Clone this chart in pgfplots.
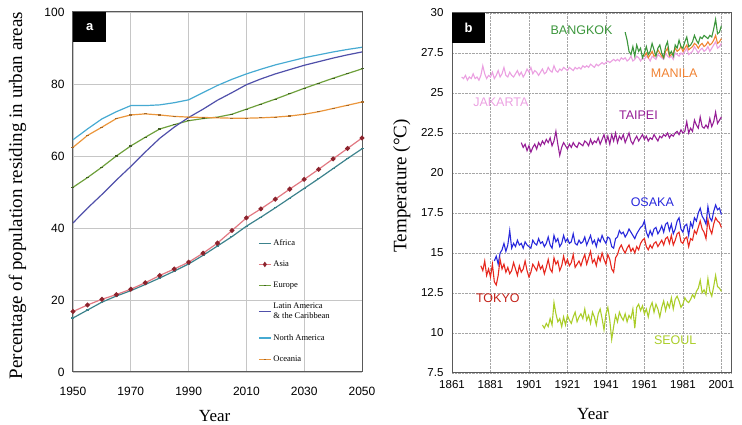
\documentclass[border=0pt]{standalone}
\usepackage{fontspec}
\setmainfont{Liberation Serif}
\setsansfont{Liberation Sans}
\usepackage{pgfplots}
\pgfplotsset{compat=1.18}
\definecolor{cAfr}{RGB}{60,130,140}
\definecolor{cAsia}{RGB}{140,35,45}
\definecolor{cAsiaL}{RGB}{225,120,130}
\definecolor{cEur}{RGB}{110,160,60}
\definecolor{cLat}{RGB}{80,80,170}
\definecolor{cNA}{RGB}{70,170,210}
\definecolor{cOce}{RGB}{235,150,60}
\definecolor{cBkk}{RGB}{60,150,60}
\definecolor{cMnl}{RGB}{240,130,50}
\definecolor{cJkt}{RGB}{235,160,225}
\definecolor{cTpe}{RGB}{150,30,150}
\definecolor{cOsa}{RGB}{40,40,220}
\definecolor{cTyo}{RGB}{230,40,30}
\definecolor{cSel}{RGB}{170,205,40}
\begin{document}
\begin{tikzpicture}
\useasboundingbox (0,0) rectangle (742pt,425pt);
% ---------------- panel a ----------------
\begin{axis}[
  at={(73pt,53pt)}, anchor=south west,
  scale only axis, width=289pt, height=360pt,
  xmin=1950, xmax=2050, ymin=0, ymax=100,
  xtick={1950,1970,...,2050}, ytick={0,20,...,100},
  grid=major, grid style={gray!45, line width=0.8pt},
  axis line style={gray!70!black, line width=1pt},
  tick style={draw=none},
  /pgf/number format/1000 sep={},
  /pgf/number format/assume math mode=true,
  ticklabel style={font=\sffamily\fontsize{12}{14}\selectfont},
  xticklabel style={yshift=-12pt},
  yticklabel style={xshift=-5pt},
  xlabel={Year}, ylabel={Percentage of population residing in urban areas},
  xlabel style={font=\fontsize{17}{20}\selectfont, at={(axis description cs:0.49,-0.122)}, anchor=center},
  ylabel style={font=\fontsize{19}{22}\selectfont, at={(axis description cs:-0.192,0.49)}, anchor=center},
  legend style={at={(axis description cs:0.63,0.38)}, anchor=north west,
    draw=none, fill=none, font=\fontsize{8.5}{10}\selectfont,
    nodes={align=left}, row sep=10pt},
  legend cell align=left,
  legend image post style={xscale=0.7},
  every axis plot/.append style={line width=1.2pt},
]
\addplot[cAfr, mark=-, mark size=1.5pt] coordinates {(1950,15.0)(1955,17.2)(1960,19.4)(1965,21.1)(1970,22.6)(1975,24.3)(1980,26.1)(1985,28.0)(1990,30.0)(1995,32.4)(2000,35.0)(2005,37.6)(2010,40.5)(2015,43.0)(2020,45.6)(2025,48.3)(2030,51.0)(2035,53.7)(2040,56.5)(2045,59.3)(2050,62.0)};
\addlegendentry{Africa}
\addplot[cAsiaL, mark=*, mark size=1.8pt, mark options={fill=cAsia, draw=cAsia}] coordinates {(1950,16.8)(1955,18.6)(1960,20.2)(1965,21.5)(1970,23.0)(1975,24.8)(1980,26.8)(1985,28.6)(1990,30.5)(1995,33.0)(2000,35.8)(2005,39.3)(2010,42.8)(2015,45.3)(2020,48.0)(2025,50.8)(2030,53.5)(2035,56.3)(2040,59.2)(2045,62.1)(2050,65.0)};
\addlegendentry{Asia}
\addplot[cEur, mark=-, mark size=1.5pt, mark options={draw=cEur!60!black}] coordinates {(1950,51.3)(1955,54.0)(1960,56.9)(1965,60.0)(1970,62.8)(1975,65.2)(1980,67.5)(1985,68.7)(1990,69.8)(1995,70.4)(2000,70.8)(2005,71.6)(2010,73.0)(2015,74.4)(2020,75.8)(2025,77.3)(2030,78.8)(2035,80.2)(2040,81.6)(2045,82.9)(2050,84.2)};
\addlegendentry{Europe}
\addplot[cLat] coordinates {(1950,41.4)(1955,45.5)(1960,49.3)(1965,53.3)(1970,57.1)(1975,61.1)(1980,64.9)(1985,68.0)(1990,70.7)(1995,73.0)(2000,75.5)(2005,77.6)(2010,79.8)(2015,81.4)(2020,82.8)(2025,84.0)(2030,85.2)(2035,86.2)(2040,87.2)(2045,88.1)(2050,88.9)};
\addlegendentry{Latin America\\\& the Caribbean}
\addplot[cNA] coordinates {(1950,64.5)(1955,67.5)(1960,70.3)(1965,72.3)(1970,74.0)(1975,74.0)(1980,74.2)(1985,74.8)(1990,75.6)(1995,77.6)(2000,79.6)(2005,81.3)(2010,82.8)(2015,84.1)(2020,85.3)(2025,86.3)(2030,87.3)(2035,88.1)(2040,88.9)(2045,89.6)(2050,90.2)};
\addlegendentry{North America}
\addplot[cOce, mark=-, mark size=1.5pt, mark options={draw=cOce!70!black}] coordinates {(1950,62.4)(1955,65.7)(1960,68.0)(1965,70.4)(1970,71.4)(1975,71.7)(1980,71.4)(1985,71.0)(1990,70.8)(1995,70.7)(2000,70.6)(2005,70.5)(2010,70.5)(2015,70.6)(2020,70.8)(2025,71.1)(2030,71.6)(2035,72.3)(2040,73.2)(2045,74.1)(2050,75.0)};
\addlegendentry{Oceania}
\node[fill=black, text=white, anchor=north west, minimum width=33pt, minimum height=30pt, inner sep=0pt, font=\sffamily\bfseries\fontsize{13}{15}\selectfont] at (axis description cs:0,1) {a};
\end{axis}
% ---------------- panel b ----------------
\begin{axis}[
  at={(452pt,52pt)}, anchor=south west,
  scale only axis, width=279pt, height=360pt,
  xmin=1861, xmax=2006, ymin=7.5, ymax=30,
  xtick={1861,1881,...,2001}, ytick={7.5,10,...,30},
  grid=major, grid style={gray!70, densely dotted, line width=0.8pt},
  axis line style={gray!70!black, line width=1pt},
  tick style={draw=none},
  /pgf/number format/1000 sep={},
  /pgf/number format/assume math mode=true,
  ticklabel style={font=\sffamily\fontsize{11.5}{13}\selectfont},
  xticklabel style={yshift=-4pt},
  yticklabel style={xshift=-5pt, /pgf/number format/.cd, fixed, precision=1},
  xlabel={Year}, ylabel={Temperature (°C)},
  xlabel style={font=\fontsize{17}{20}\selectfont, at={(axis description cs:0.505,-0.113)}, anchor=center},
  ylabel style={font=\fontsize{19}{22}\selectfont, at={(axis description cs:-0.18,0.52)}, anchor=center},
  every axis plot/.append style={line width=1.1pt, no marks},
]
% JAKARTA
\addplot[cJkt] coordinates {(1866,26.0)(1867,25.9)(1868,26.1)(1869,25.8)(1870,26.0)(1871,25.9)(1872,26.2)(1873,25.9)(1874,26.0)(1875,25.8)(1876,26.1)(1877,26.7)(1878,26.2)(1879,25.9)(1880,26.1)(1881,26.0)(1882,26.3)(1883,25.9)(1884,26.1)(1885,26.4)(1886,26.0)(1887,26.2)(1888,26.6)(1889,26.1)(1890,26.0)(1891,26.3)(1892,26.1)(1893,26.0)(1894,26.2)(1895,26.4)(1896,26.1)(1897,26.3)(1898,26.0)(1899,26.2)(1900,26.5)(1901,26.3)(1902,26.6)(1903,26.2)(1904,26.4)(1905,26.3)(1906,26.1)(1907,26.3)(1908,26.5)(1909,26.2)(1910,26.3)(1911,26.6)(1912,26.4)(1913,26.3)(1914,26.7)(1915,26.4)(1916,26.3)(1917,26.5)(1918,26.4)(1919,26.6)(1920,26.5)(1921,26.4)(1922,26.6)(1923,26.5)(1924,26.4)(1925,26.6)(1926,26.5)(1927,26.6)(1928,26.5)(1929,26.7)(1930,26.6)(1931,26.7)(1932,26.6)(1933,26.8)(1934,26.7)(1935,26.6)(1936,26.8)(1937,26.7)(1938,26.8)(1939,26.9)(1940,26.8)(1941,26.9)(1942,27.0)(1943,26.9)(1944,27.0)(1945,27.1)(1946,27.0)(1947,27.1)(1948,27.0)(1949,27.2)(1950,27.1)(1951,27.2)(1952,27.0)(1953,27.1)(1954,27.3)(1955,27.0)(1956,27.1)(1957,27.3)(1958,27.2)(1959,27.0)(1960,27.2)(1961,27.1)(1962,27.3)(1963,27.2)(1964,27.0)(1965,27.3)(1966,27.2)(1967,27.1)(1968,27.4)(1969,27.3)(1970,27.2)(1971,27.1)(1972,27.5)(1973,27.3)(1974,27.2)(1975,27.3)(1976,27.1)(1977,27.5)(1978,27.4)(1979,27.3)(1980,27.5)(1981,27.4)(1982,27.6)(1983,27.8)(1984,27.4)(1985,27.5)(1986,27.6)(1987,27.9)(1988,27.7)(1989,27.5)(1990,27.7)(1991,27.8)(1992,27.6)(1993,27.7)(1994,27.9)(1995,27.6)(1996,27.8)(1997,28.0)(1998,28.2)(1999,27.8)(2000,27.9)(2001,28.1)};
% MANILA
\addplot[cMnl] coordinates {(1961,27.3)(1962,27.5)(1963,27.2)(1964,27.4)(1965,27.6)(1966,27.3)(1967,27.4)(1968,27.7)(1969,27.5)(1970,27.3)(1971,27.2)(1972,27.6)(1973,27.8)(1974,27.3)(1975,27.4)(1976,27.5)(1977,27.8)(1978,27.6)(1979,27.7)(1980,27.9)(1981,27.6)(1982,27.8)(1983,28.0)(1984,27.7)(1985,27.8)(1986,27.9)(1987,28.1)(1988,28.0)(1989,27.8)(1990,28.0)(1991,28.1)(1992,27.9)(1993,28.0)(1994,28.2)(1995,28.0)(1996,28.1)(1997,28.3)(1998,28.6)(1999,28.1)(2000,28.2)(2001,28.4)};
% BANGKOK
\addplot[cBkk] coordinates {(1951,28.8)(1952,28.3)(1953,27.6)(1954,27.4)(1955,27.9)(1956,27.3)(1957,28.0)(1958,27.6)(1959,27.8)(1960,27.2)(1961,27.5)(1962,27.9)(1963,27.4)(1964,27.6)(1965,28.1)(1966,27.7)(1967,27.3)(1968,27.8)(1969,28.0)(1970,27.5)(1971,27.2)(1972,27.9)(1973,28.2)(1974,27.4)(1975,27.6)(1976,27.3)(1977,28.0)(1978,27.8)(1979,28.3)(1980,27.9)(1981,27.8)(1982,28.2)(1983,28.5)(1984,27.9)(1985,28.0)(1986,28.2)(1987,28.6)(1988,28.3)(1989,28.1)(1990,28.5)(1991,28.4)(1992,28.6)(1993,28.5)(1994,28.4)(1995,28.6)(1996,28.5)(1997,29.0)(1998,29.6)(1999,28.7)(2000,28.8)(2001,29.2)};
% TAIPEI
\addplot[cTpe] coordinates {(1897,21.9)(1898,21.6)(1899,21.8)(1900,21.4)(1901,21.7)(1902,21.3)(1903,21.6)(1904,21.8)(1905,21.5)(1906,21.9)(1907,21.7)(1908,22.0)(1909,21.8)(1910,22.1)(1911,21.9)(1912,22.2)(1913,21.7)(1914,22.0)(1915,22.6)(1916,21.8)(1917,21.1)(1918,21.6)(1919,21.9)(1920,21.7)(1921,21.5)(1922,21.8)(1923,21.6)(1924,21.9)(1925,21.7)(1926,21.6)(1927,21.9)(1928,21.8)(1929,21.7)(1930,22.0)(1931,21.9)(1932,21.7)(1933,22.1)(1934,21.8)(1935,22.0)(1936,21.9)(1937,22.2)(1938,21.8)(1939,22.1)(1940,22.4)(1941,21.9)(1942,22.3)(1943,21.8)(1944,22.4)(1945,22.0)(1946,22.5)(1947,21.9)(1948,22.3)(1949,22.1)(1950,22.4)(1951,21.9)(1952,22.2)(1953,22.5)(1954,22.0)(1955,21.8)(1956,22.1)(1957,22.3)(1958,22.0)(1959,22.2)(1960,22.4)(1961,22.1)(1962,22.3)(1963,22.0)(1964,22.2)(1965,22.1)(1966,22.4)(1967,22.2)(1968,22.0)(1969,22.3)(1970,22.2)(1971,22.4)(1972,22.3)(1973,22.5)(1974,22.2)(1975,22.4)(1976,22.3)(1977,22.5)(1978,22.6)(1979,22.4)(1980,22.7)(1981,22.5)(1982,22.6)(1983,23.2)(1984,22.5)(1985,22.8)(1986,22.6)(1987,23.3)(1988,23.0)(1989,22.8)(1990,23.5)(1991,22.9)(1992,22.8)(1993,23.0)(1994,22.8)(1995,23.4)(1996,22.9)(1997,23.2)(1998,23.8)(1999,23.1)(2000,23.3)(2001,23.5)};
% OSAKA
\addplot[cOsa] coordinates {(1883,14.5)(1884,14.8)(1885,14.3)(1886,15.0)(1887,15.2)(1888,15.6)(1889,15.1)(1890,15.5)(1891,16.4)(1892,15.3)(1893,15.6)(1894,15.4)(1895,15.8)(1896,15.5)(1897,15.6)(1898,15.3)(1899,15.7)(1900,15.5)(1901,15.4)(1902,15.3)(1903,15.8)(1904,15.6)(1905,15.5)(1906,15.9)(1907,15.6)(1908,15.7)(1909,15.4)(1910,15.6)(1911,16.0)(1912,15.5)(1913,15.3)(1914,16.1)(1915,15.7)(1916,15.9)(1917,15.4)(1918,15.6)(1919,16.1)(1920,15.7)(1921,15.9)(1922,15.6)(1923,15.7)(1924,16.2)(1925,15.6)(1926,15.5)(1927,15.8)(1928,15.6)(1929,15.7)(1930,16.0)(1931,15.5)(1932,15.8)(1933,16.1)(1934,15.6)(1935,15.8)(1936,15.4)(1937,15.9)(1938,15.7)(1939,16.1)(1940,15.8)(1941,15.6)(1942,16.0)(1943,15.9)(1944,15.4)(1945,15.3)(1946,15.9)(1947,16.0)(1948,16.4)(1949,16.2)(1950,16.3)(1951,16.0)(1952,16.2)(1953,16.5)(1954,16.3)(1955,16.1)(1956,15.9)(1957,16.2)(1958,16.4)(1959,16.6)(1960,16.7)(1961,17.0)(1962,16.3)(1963,16.0)(1964,16.4)(1965,16.1)(1966,16.5)(1967,16.6)(1968,16.2)(1969,16.4)(1970,16.7)(1971,16.3)(1972,16.8)(1973,16.9)(1974,16.4)(1975,16.8)(1976,16.2)(1977,16.5)(1978,17.0)(1979,17.2)(1980,16.5)(1981,16.3)(1982,16.7)(1983,16.8)(1984,16.1)(1985,16.9)(1986,16.6)(1987,17.2)(1988,17.0)(1989,17.5)(1990,17.8)(1991,17.3)(1992,17.1)(1993,16.8)(1994,17.9)(1995,17.2)(1996,17.0)(1997,17.6)(1998,18.0)(1999,17.7)(2000,17.8)(2001,17.4)};
% TOKYO
\addplot[cTyo] coordinates {(1876,14.2)(1877,13.9)(1878,14.5)(1879,13.6)(1880,14.0)(1881,13.5)(1882,14.3)(1883,13.2)(1884,13.0)(1885,13.6)(1886,14.6)(1887,14.0)(1888,14.3)(1889,13.8)(1890,14.1)(1891,13.7)(1892,13.9)(1893,14.4)(1894,14.0)(1895,13.6)(1896,14.2)(1897,13.8)(1898,14.0)(1899,14.5)(1900,13.9)(1901,13.5)(1902,13.8)(1903,14.3)(1904,14.1)(1905,13.9)(1906,14.4)(1907,14.0)(1908,14.2)(1909,13.7)(1910,14.1)(1911,14.6)(1912,14.0)(1913,13.8)(1914,14.7)(1915,14.3)(1916,14.5)(1917,13.9)(1918,14.2)(1919,14.8)(1920,14.3)(1921,14.6)(1922,14.2)(1923,14.4)(1924,14.9)(1925,14.1)(1926,14.3)(1927,14.5)(1928,14.2)(1929,14.6)(1930,14.9)(1931,14.3)(1932,14.7)(1933,15.1)(1934,14.4)(1935,14.6)(1936,14.2)(1937,14.8)(1938,14.5)(1939,15.0)(1940,14.6)(1941,14.3)(1942,14.9)(1943,14.6)(1944,14.0)(1945,13.8)(1946,14.7)(1947,14.9)(1948,15.3)(1949,15.5)(1950,15.2)(1951,15.0)(1952,15.3)(1953,15.5)(1954,15.1)(1955,15.3)(1956,15.0)(1957,15.4)(1958,15.2)(1959,15.6)(1960,15.8)(1961,15.9)(1962,15.4)(1963,15.2)(1964,15.5)(1965,15.3)(1966,15.6)(1967,15.7)(1968,15.4)(1969,15.6)(1970,15.8)(1971,15.5)(1972,15.9)(1973,16.0)(1974,15.6)(1975,16.1)(1976,15.5)(1977,15.8)(1978,16.2)(1979,16.3)(1980,15.7)(1981,15.6)(1982,15.9)(1983,16.0)(1984,15.4)(1985,15.9)(1986,15.8)(1987,16.4)(1988,16.2)(1989,16.6)(1990,17.0)(1991,16.5)(1992,16.3)(1993,15.9)(1994,17.1)(1995,16.5)(1996,16.2)(1997,16.8)(1998,17.2)(1999,17.0)(2000,16.9)(2001,16.6)};
% SEOUL
\addplot[cSel] coordinates {(1908,10.5)(1909,10.3)(1910,10.6)(1911,10.4)(1912,10.9)(1913,10.5)(1914,11.9)(1915,11.2)(1916,10.7)(1917,10.9)(1918,10.4)(1919,11.0)(1920,10.5)(1921,11.1)(1922,10.8)(1923,10.6)(1924,11.0)(1925,11.3)(1926,10.7)(1927,11.0)(1928,11.2)(1929,10.9)(1930,11.5)(1931,10.8)(1932,11.1)(1933,10.6)(1934,11.3)(1935,11.0)(1936,10.5)(1937,11.2)(1938,11.5)(1939,10.9)(1940,10.2)(1941,11.2)(1942,11.6)(1943,10.8)(1944,9.6)(1945,10.4)(1946,11.1)(1947,10.7)(1948,11.3)(1949,11.0)(1950,10.8)(1951,11.2)(1952,10.7)(1953,11.1)(1954,10.9)(1955,11.5)(1956,10.3)(1957,11.6)(1958,11.8)(1959,11.4)(1960,11.7)(1961,11.2)(1962,11.5)(1963,11.0)(1964,11.6)(1965,11.9)(1966,11.3)(1967,11.8)(1968,11.5)(1969,11.0)(1970,11.6)(1971,12.0)(1972,11.4)(1973,11.9)(1974,11.6)(1975,12.2)(1976,11.5)(1977,12.1)(1978,12.3)(1979,12.0)(1980,11.6)(1981,11.8)(1982,12.2)(1983,12.0)(1984,11.9)(1985,12.1)(1986,12.4)(1987,12.2)(1988,12.6)(1989,12.8)(1990,13.3)(1991,12.5)(1992,12.7)(1993,12.4)(1994,13.4)(1995,12.6)(1996,12.3)(1997,12.9)(1998,13.6)(1999,12.9)(2000,12.8)(2001,12.6)};
\begin{scope}[every node/.style={font=\sffamily\fontsize{12.5}{14}\selectfont}]
\node[text=cBkk] at (axis cs:1928.3,28.94) {BANGKOK};
\node[text=cMnl] at (axis cs:1976.5,26.25) {MANILA};
\node[text=cJkt] at (axis cs:1886.4,24.44) {JAKARTA};
\node[text=cTpe] at (axis cs:1957.9,23.6) {TAIPEI};
\node[text=cOsa] at (axis cs:1965.1,18.19) {OSAKA};
\node[text=cTyo!85!black] at (axis cs:1884.8,12.19) {TOKYO};
\node[text=cSel] at (axis cs:1977,9.56) {SEOUL};
\end{scope}
\node[fill=black, text=white, anchor=north west, minimum width=33pt, minimum height=30pt, inner sep=0pt, font=\sffamily\bfseries\fontsize{13}{15}\selectfont] at (axis description cs:0,1) {b};
\end{axis}
\end{tikzpicture}
\end{document}
